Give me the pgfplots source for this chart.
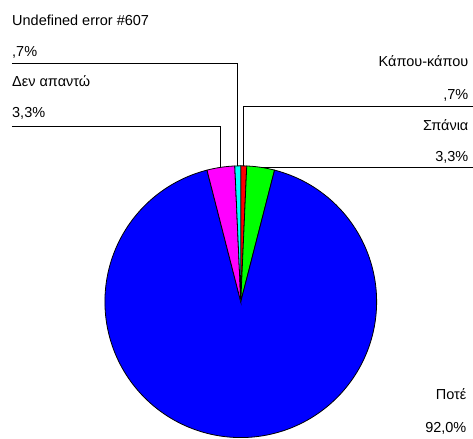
\documentclass[border=0pt]{standalone}
\usepackage{pgfplots}
\pgfplotsset{compat=1.18}
\usepackage{fontspec}
\setmainfont{Liberation Sans}
\definecolor{pRed}{RGB}{255,0,0}
\definecolor{pGreen}{RGB}{0,255,0}
\definecolor{pBlue}{RGB}{0,0,255}
\definecolor{pMagenta}{RGB}{255,0,255}
\definecolor{pCyan}{RGB}{0,255,255}
\begin{document}
\begin{tikzpicture}
% shares in percent, clockwise from 12 o'clock
\def\pA{0.7}  % Κάπου-κάπου
\def\pB{3.3}  % Σπάνια
\def\pC{92.0} % Ποτέ
\def\pD{3.3}  % Δεν απαντώ
\def\pE{0.7}  % Undefined error #607
\pgfmathsetmacro\aA{90}
\pgfmathsetmacro\aB{\aA-3.6*\pA}
\pgfmathsetmacro\aC{\aB-3.6*\pB}
\pgfmathsetmacro\aD{\aC-3.6*\pC}
\pgfmathsetmacro\aE{\aD-3.6*\pD}
\pgfmathsetmacro\aF{\aE-3.6*\pE}
\def\cx{241}\def\cy{137}\def\R{136}
\begin{axis}[hide axis, scale only axis, width=473bp, height=439bp,
  xmin=0, xmax=473, ymin=0, ymax=439, clip=false,
  every axis plot/.append style={line width=0.8pt}]
\addplot[draw=none, forget plot] coordinates {(0,0) (473,439)};
\addplot[fill=pRed, draw=black, domain=\aB:\aA, samples=10, variable=\t] ({\cx+\R*cos(\t)},{\cy+\R*sin(\t)}) -- (axis cs:\cx,\cy) -- cycle;
\addplot[fill=pGreen, draw=black, domain=\aC:\aB, samples=20, variable=\t] ({\cx+\R*cos(\t)},{\cy+\R*sin(\t)}) -- (axis cs:\cx,\cy) -- cycle;
\addplot[fill=pBlue, draw=black, domain=\aD:\aC, samples=200, variable=\t] ({\cx+\R*cos(\t)},{\cy+\R*sin(\t)}) -- (axis cs:\cx,\cy) -- cycle;
\addplot[fill=pMagenta, draw=black, domain=\aE:\aD, samples=20, variable=\t] ({\cx+\R*cos(\t)},{\cy+\R*sin(\t)}) -- (axis cs:\cx,\cy) -- cycle;
\addplot[fill=pCyan, draw=black, domain=\aF:\aE, samples=10, variable=\t] ({\cx+\R*cos(\t)},{\cy+\R*sin(\t)}) -- (axis cs:\cx,\cy) -- cycle;
% leader lines
\addplot[black, line width=0.9pt] coordinates {(12,375) (238,375) (238,273)};
\addplot[black, line width=0.9pt] coordinates {(12,312) (221,312) (221,271.5)};
\addplot[black, line width=0.9pt] coordinates {(473,332) (244,332) (244,273)};
\addplot[black, line width=0.9pt] coordinates {(473,271) (261,271)};
% labels
\begin{scope}[every node/.style={inner sep=0pt, font=\fontsize{14.5bp}{17bp}\selectfont}]
\node[anchor=base west] at (axis cs:12,413) {Undefined error \#607};
\node[anchor=base west] at (axis cs:12,382) {,7\%};
\node[anchor=base west] at (axis cs:12,352) {Δεν απαντώ};
\node[anchor=base west] at (axis cs:12,321) {3,3\%};
\node[anchor=base east] at (axis cs:469,372) {Κάπου-κάπου};
\node[anchor=base east] at (axis cs:469,339) {,7\%};
\node[anchor=base east] at (axis cs:469,308) {Σπάνια};
\node[anchor=base east] at (axis cs:469,277) {3,3\%};
\node[anchor=base east] at (axis cs:467,39) {Ποτέ};
\node[anchor=base east] at (axis cs:467,6) {92,0\%};
\end{scope}
\end{axis}
\end{tikzpicture}
\end{document}
